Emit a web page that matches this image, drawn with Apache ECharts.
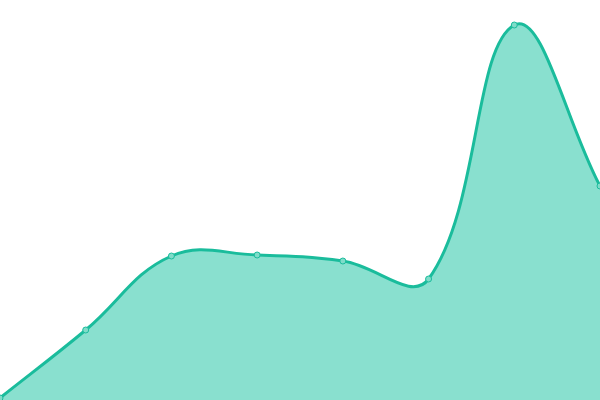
<!DOCTYPE html>
<html>
<head>
<meta charset="utf-8">
<script src="https://cdn.jsdelivr.net/npm/echarts@6/dist/echarts.min.js"></script>
<style>
  html, body { margin: 0; padding: 0; background: #fff; }
  #chart { width: 600px; height: 400px; }
</style>
</head>
<body>
<div id="chart"></div>
<script>
// 横轴类别（图上不显示）
const categories = ['1', '2', '3', '4', '5', '6', '7', '8']
// 数值
const values = [2, 70, 144, 145, 139, 121, 375, 214]

const lineColor = '#1abc9c'
const areaColor = '#89e0cf'
const tension = 0.4

// 曲线控制点（张力样条，允许过冲）
const splinePath = function (pts) {
  let cps = pts.map((p, i) => {
    let p0 = pts[i - 1] || p
    let p2 = pts[i + 1] || p
    let d01 = Math.hypot(p[0] - p0[0], p[1] - p0[1])
    let d12 = Math.hypot(p2[0] - p[0], p2[1] - p[1])
    let s01 = d01 / (d01 + d12) || 0
    let s12 = d12 / (d01 + d12) || 0
    let fa = tension * s01
    let fb = tension * s12
    return {
      prev: [p[0] - fa * (p2[0] - p0[0]), p[1] - fa * (p2[1] - p0[1])],
      next: [p[0] + fb * (p2[0] - p0[0]), p[1] + fb * (p2[1] - p0[1])]
    }
  })
  let d = 'M' + pts[0][0] + ' ' + pts[0][1]
  for (let i = 1; i < pts.length; i++) {
    let a = cps[i - 1].next
    let b = cps[i].prev
    d += ' C' + a[0] + ' ' + a[1] + ' ' + b[0] + ' ' + b[1] + ' ' + pts[i][0] + ' ' + pts[i][1]
  }
  return d
}

const myChart = echarts.init(document.getElementById('chart'))
const option = {
  animation: false,
  grid: { left: 0, right: 0, top: 0, bottom: 0 },
  xAxis: {
    type: 'category',
    boundaryGap: false,
    data: categories,
    show: false
  },
  yAxis: {
    type: 'value',
    min: 0,
    max: 400,
    show: false
  },
  series: [{
    type: 'custom',
    silent: true,
    clip: false,
    data: [[0, 0]],
    renderItem: function (params, api) {
      let pts = values.map((v, i) => api.coord([i, v]))
      let base = api.coord([0, 0])[1]
      let curve = splinePath(pts)
      let last = pts[pts.length - 1]
      let area = curve + ' L' + last[0] + ' ' + base + ' L' + pts[0][0] + ' ' + base + ' Z'
      return {
        type: 'group',
        children: [{
          type: 'path',
          shape: { pathData: area },
          style: { fill: areaColor, stroke: null }
        }, {
          type: 'path',
          shape: { pathData: curve },
          style: { fill: null, stroke: lineColor, lineWidth: 3 }
        }]
      }
    }
  }, {
    type: 'line',
    data: values,
    symbol: 'circle',
    symbolSize: 6,
    z: 5,
    itemStyle: { color: '#7fdcc9', borderColor: lineColor, borderWidth: 1 },
    lineStyle: { width: 0 }
  }]
}
myChart.setOption(option)
</script>
</body>
</html>
